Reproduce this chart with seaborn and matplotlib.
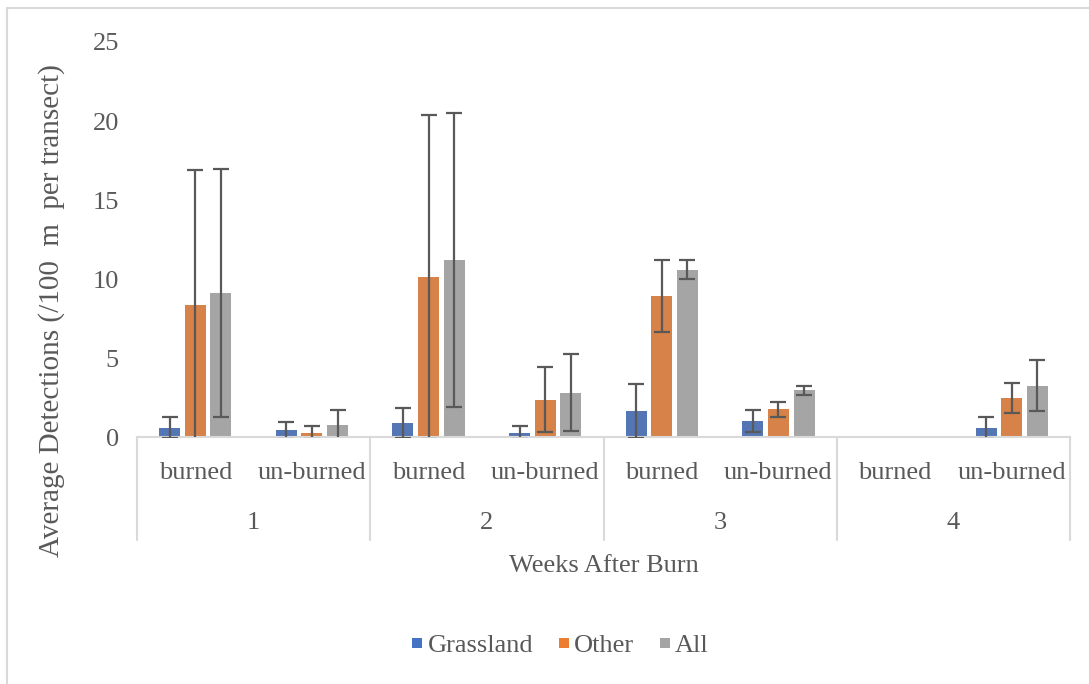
import numpy as np
import pandas as pd
import seaborn as sns
import matplotlib.pyplot as plt
from matplotlib.lines import Line2D
import matplotlib.transforms as mtransforms

# data
weeks = ['1', '2', '3', '4']
burn_status = ['burned', 'un-burned']
habitats = ['Grassland', 'Other', 'All']

grassland = [0.6, 0.42, 0.9, 0.28, 1.63, 1.01, 0.0, 0.57]
grassland_err = [0.67, 0.53, 0.97, 0.4, 1.7, 0.7, np.nan, 0.68]
other = [8.33, 0.28, 10.13, 2.37, 8.92, 1.75, 0.0, 2.49]
other_err = [8.6, 0.4, 10.28, 2.05, 2.3, 0.5, np.nan, 0.96]
all_hab = [9.11, 0.74, 11.18, 2.81, 10.59, 2.96, 0.0, 3.25]
all_err = [7.83, 0.95, 9.3, 2.45, 0.6, 0.3, np.nan, 1.6]

colors = ['#4472C4', '#ED7D31', '#A5A5A5']
txt_col = '#595959'
line_col = '#D9D9D9'

sns.set_theme(style='white')
plt.rcParams['font.family'] = ['Liberation Serif', 'DejaVu Serif']
plt.rcParams['text.color'] = txt_col
plt.rcParams['axes.labelcolor'] = txt_col
plt.rcParams['ytick.color'] = txt_col
plt.rcParams['xtick.color'] = txt_col

slots = [f'{w}-{b}' for w in weeks for b in burn_status]
df = pd.DataFrame({'slot': slots, 'Grassland': grassland,
                   'Other': other, 'All': all_hab})
long_df = df.melt(id_vars='slot', var_name='habitat', value_name='value')
errs = {'Grassland': grassland_err, 'Other': other_err, 'All': all_err}

fig = plt.figure(figsize=(10.89, 6.84), dpi=100)
ax = fig.add_axes([0.1258, 0.361, 0.8568, 0.5776])

sns.barplot(data=long_df, x='slot', y='value', hue='habitat',
            hue_order=habitats, palette=colors, width=0.66, gap=0.18,
            errorbar=None, linewidth=0, legend=False, ax=ax)

# error bars on top of each bar
for cont, hab in zip(ax.containers, habitats):
    for bar, e in zip(cont, errs[hab]):
        if np.isnan(e):
            continue
        ax.errorbar(bar.get_x() + bar.get_width() / 2, bar.get_height(),
                    yerr=e, fmt='none', ecolor='#595959', elinewidth=1.6,
                    capsize=5.5, capthick=1.6, zorder=3)

ax.set_ylim(0, 25)
ax.set_xlim(-0.5, 7.5)
ax.set_yticks([0, 5, 10, 15, 20, 25])
ax.tick_params(axis='y', length=0, pad=13, labelsize=19)
ax.tick_params(axis='x', length=0)
ax.set_xticks(range(8))
ax.set_xticklabels([])

for s in ['left', 'right', 'top']:
    ax.spines[s].set_visible(False)
ax.spines['bottom'].set_color(line_col)
ax.spines['bottom'].set_linewidth(1.5)

# two-level category axis
trans = mtransforms.blended_transform_factory(ax.transData, ax.transAxes)
for i, s in enumerate(slots):
    ax.text(i, -0.092, s.split('-', 1)[1], transform=trans, ha='center',
            va='center', fontsize=19, color=txt_col)
for k, w in enumerate(weeks):
    ax.text(2 * k + 0.5, -0.218, w, transform=trans, ha='center',
            va='center', fontsize=19, color=txt_col)
for xs in [-0.5, 1.5, 3.5, 5.5, 7.5]:
    ax.plot([xs, xs], [0, -0.26], transform=trans, color=line_col,
            lw=1.5, clip_on=False)

ax.text(0.5, -0.327, 'Weeks After Burn', transform=ax.transAxes,
        ha='center', va='center', fontsize=19, color=txt_col)
ax.set_xlabel('')
ax.set_ylabel('Average Detections (/100  m  per transect)', fontsize=21)
ax.yaxis.set_label_coords(-0.077, 0.32)

handles = [Line2D([], [], marker='s', linestyle='none', markersize=7.5,
                  markerfacecolor=c, markeredgewidth=0) for c in colors]
fig.legend(handles, habitats, loc='center', bbox_to_anchor=(0.514, 0.057),
           ncol=3, frameon=False, fontsize=19, handlelength=0.5,
           handletextpad=0.15, columnspacing=0.9, labelcolor=txt_col)

# chart border (only left and top show in the crop)
fig.add_artist(Line2D([0.0065, 0.0065], [0, 0.988], color=line_col, lw=1.5,
                      transform=fig.transFigure))
fig.add_artist(Line2D([0.0065, 1], [0.988, 0.988], color=line_col, lw=1.5,
                      transform=fig.transFigure))

fig.savefig('out.png', dpi=100)
